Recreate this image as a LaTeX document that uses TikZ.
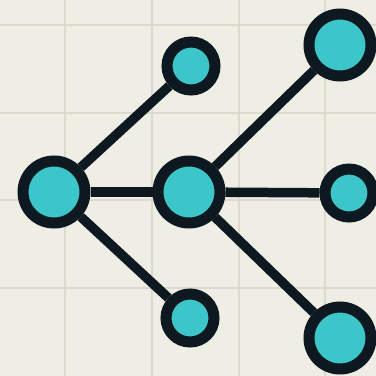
\documentclass[tikz,border=0pt]{standalone}
\definecolor{paper}{HTML}{EEEEE4}
\definecolor{gridline}{HTML}{DADACE}
\definecolor{teal}{HTML}{3CC6CA}
\definecolor{ink}{HTML}{0E1820}
\tikzset{
  vertex/.style={circle, draw=ink, fill=teal, line width=11pt, inner sep=0pt},
  bigv/.style={vertex, minimum size=62pt},
  smallv/.style={vertex, minimum size=48pt},
  link/.style={draw=ink, line width=9.5pt},
}
\begin{document}
\begin{tikzpicture}[x=1pt,y=-1pt]
  % paper and grid
  \fill[paper] (0,0) rectangle (376,376);
  \useasboundingbox (0,0) rectangle (376,376);
  \foreach \gx in {65,152,239,325}
    \draw[gridline, line width=2.5pt] (\gx,0) -- (\gx,376);
  \foreach \gy in {25,113,200,288}
    \draw[gridline, line width=2.5pt] (0,\gy) -- (376,\gy);
  % vertices
  \node[bigv]   (root) at (54,192) {};
  \node[bigv]   (mid)  at (189,192) {};
  \node[smallv] (up)   at (191,66) {};
  \node[smallv] (down) at (190,318) {};
  \node[bigv]   (ne)   at (340,45) {};
  \node[smallv] (e)    at (349,193) {};
  \node[bigv]   (se)   at (340,338) {};
  % edges
  \path[link] (root) -- (up);
  \path[link] (root) -- (mid);
  \path[link] (root) -- (down);
  \path[link] (mid) -- (ne);
  \path[link] (mid) -- (e);
  \path[link] (mid) -- (se);
\end{tikzpicture}
\end{document}
